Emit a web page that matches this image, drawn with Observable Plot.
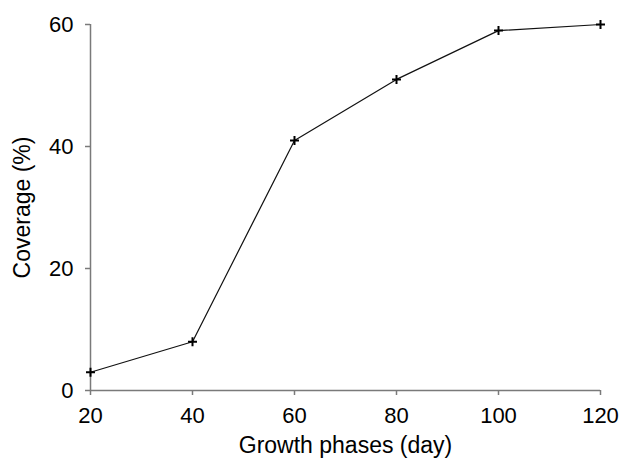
<!DOCTYPE html>
<html>
<head>
<meta charset="utf-8">
<script src="https://cdn.jsdelivr.net/npm/d3@7"></script>
<script src="https://cdn.jsdelivr.net/npm/@observablehq/plot@0.6"></script>
<style>
  html, body { margin: 0; padding: 0; background: #fff; }
  #chart svg { display: block; }
</style>
</head>
<body>
<div id="chart"></div>
<script>
const days = [20, 40, 60, 80, 100, 120];
const coverage = [3, 8, 41, 51, 59, 60];
const xTicks = [20, 40, 60, 80, 100, 120];
const yTicks = [0, 20, 40, 60];
const xLabel = "Growth phases (day)";
const yLabel = "Coverage (%)";

const data = days.map((d, i) => ({day: d, cov: coverage[i]}));
const axisColor = "#7a7a7a";

const chart = Plot.plot({
  width: 621,
  height: 460,
  marginLeft: 90,
  marginRight: 21,
  marginTop: 24,
  marginBottom: 70,
  style: {fontFamily: "Liberation Sans, Arial, sans-serif", background: "#fff", color: "#000"},
  x: {domain: [20, 120]},
  y: {domain: [0, 60]},
  marks: [
    Plot.ruleY([0], {stroke: axisColor, strokeWidth: 1.5}),
    Plot.ruleX([20], {stroke: axisColor, strokeWidth: 1.5}),
    Plot.axisX(xTicks, {ticks: xTicks, tickSize: 5, tickPadding: 12, fontSize: 22, stroke: axisColor, strokeWidth: 1.5, fill: "#000", label: null}),
    Plot.axisY(yTicks, {ticks: yTicks, tickSize: 5, tickPadding: 12, fontSize: 22, stroke: axisColor, strokeWidth: 1.5, fill: "#000", label: null}),
    Plot.line(data, {x: "day", y: "cov", stroke: "#111", strokeWidth: 1.2}),
    Plot.dot(data, {x: "day", y: "cov", symbol: "plus", r: 3, stroke: "#000", strokeWidth: 2}),
    Plot.text([xLabel], {frameAnchor: "bottom", dy: 62, fontSize: 23, fill: "#000", lineAnchor: "bottom", text: d => d}),
    Plot.text([yLabel], {frameAnchor: "left", dx: -68, rotate: -90, textAnchor: "middle", fontSize: 23, fill: "#000", text: d => d})
  ]
});
document.getElementById("chart").appendChild(chart);
</script>
</body>
</html>
